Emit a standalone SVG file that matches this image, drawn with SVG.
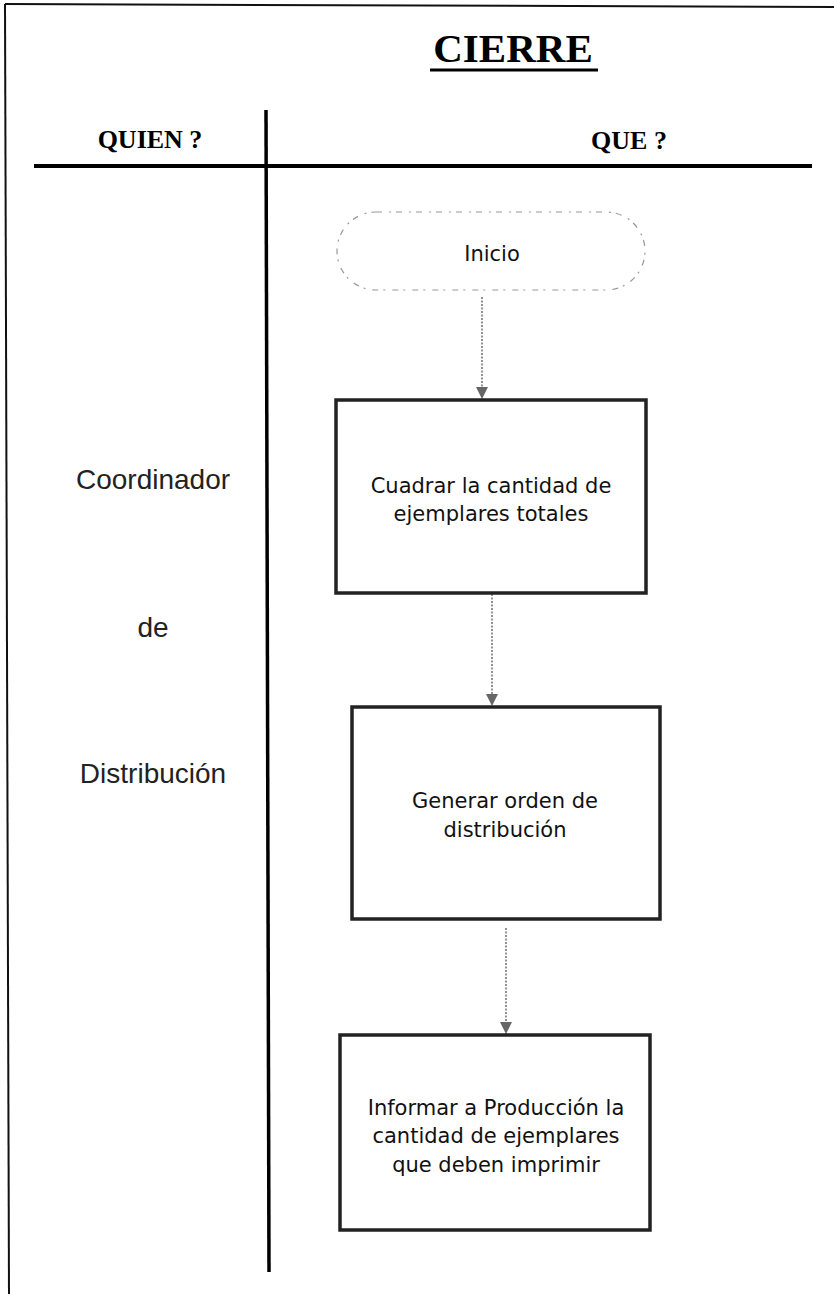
<svg xmlns="http://www.w3.org/2000/svg" width="834" height="1294" viewBox="0 0 834 1294">
  <style>
    .frame { stroke: #111; stroke-width: 2; fill: none; }
    .rule { stroke: #000; stroke-width: 4; fill: none; }
    .title { font-family: "Liberation Serif", "Times New Roman", serif; font-weight: bold; fill: #000; }
    .hdr { font-family: "Liberation Serif", "Times New Roman", serif; font-weight: bold; font-size: 26px; fill: #000; }
    .who { font-family: "Liberation Sans", Arial, sans-serif; font-size: 28px; fill: #222; text-anchor: middle; }
    .box { fill: #fff; stroke: #222; stroke-width: 3.5; }
    .term { fill: #fff; stroke: #999; stroke-width: 1.2; stroke-dasharray: 6 7 2 5; }
    .lbl { font-family: "DejaVu Sans", Tahoma, sans-serif; font-size: 21px; fill: #111; text-anchor: middle; }
    .conn { stroke: #777; stroke-width: 1.6; stroke-dasharray: 2 1.5; fill: none; }
  </style>
  <defs>
    <marker id="arr" markerUnits="userSpaceOnUse" markerWidth="12" markerHeight="12" viewBox="0 0 12 12" refX="12" refY="6" orient="auto">
      <path d="M0,0 L12,6 L0,12 Z" fill="#666"/>
    </marker>
  </defs>
  <rect x="0" y="0" width="834" height="1294" fill="#fff"/>

  <g id="page-frame">
    <line class="frame" x1="5" y1="4" x2="834" y2="7"/>
    <line class="frame" x1="5" y1="4" x2="9" y2="1294"/>
  </g>

  <g id="title">
    <text class="title" x="513" y="62" font-size="41" text-anchor="middle">CIERRE</text>
    <line x1="430" y1="70" x2="598" y2="70" stroke="#000" stroke-width="3"/>
  </g>

  <g id="table-header">
    <line class="rule" x1="34" y1="166" x2="812" y2="166"/>
    <line x1="266" y1="110" x2="269" y2="1272" stroke="#000" stroke-width="3.5"/>
    <text class="hdr" x="150" y="148" text-anchor="middle">QUIEN ?</text>
    <text class="hdr" x="629" y="149" text-anchor="middle">QUE ?</text>
  </g>

  <g id="role">
    <text class="who" x="153" y="489">Coordinador</text>
    <text class="who" x="153" y="637">de</text>
    <text class="who" x="153" y="783">Distribución</text>
  </g>

  <g id="connectors">
    <line class="conn" x1="482" y1="297" x2="482" y2="399" marker-end="url(#arr)"/>
    <line class="conn" x1="492" y1="594" x2="492" y2="706" marker-end="url(#arr)"/>
    <line class="conn" x1="506" y1="928" x2="506" y2="1034" marker-end="url(#arr)"/>
  </g>

  <g id="inicio">
    <rect class="term" x="337" y="212" width="308" height="78" rx="39" ry="39"/>
    <text class="lbl" x="492" y="261">Inicio</text>
  </g>

  <g id="cuadrar">
    <rect class="box" x="336" y="400" width="310" height="193"/>
    <text class="lbl" x="491" y="493">Cuadrar la cantidad de</text>
    <text class="lbl" x="491" y="521">ejemplares totales</text>
  </g>

  <g id="generar">
    <rect class="box" x="352" y="707" width="308" height="212"/>
    <text class="lbl" x="505" y="808">Generar orden de</text>
    <text class="lbl" x="505" y="837">distribución</text>
  </g>

  <g id="informar">
    <rect class="box" x="340" y="1035" width="310" height="195"/>
    <text class="lbl" x="496" y="1115">Informar a Producción la</text>
    <text class="lbl" x="496" y="1143">cantidad de ejemplares</text>
    <text class="lbl" x="496" y="1172">que deben imprimir</text>
  </g>
</svg>
